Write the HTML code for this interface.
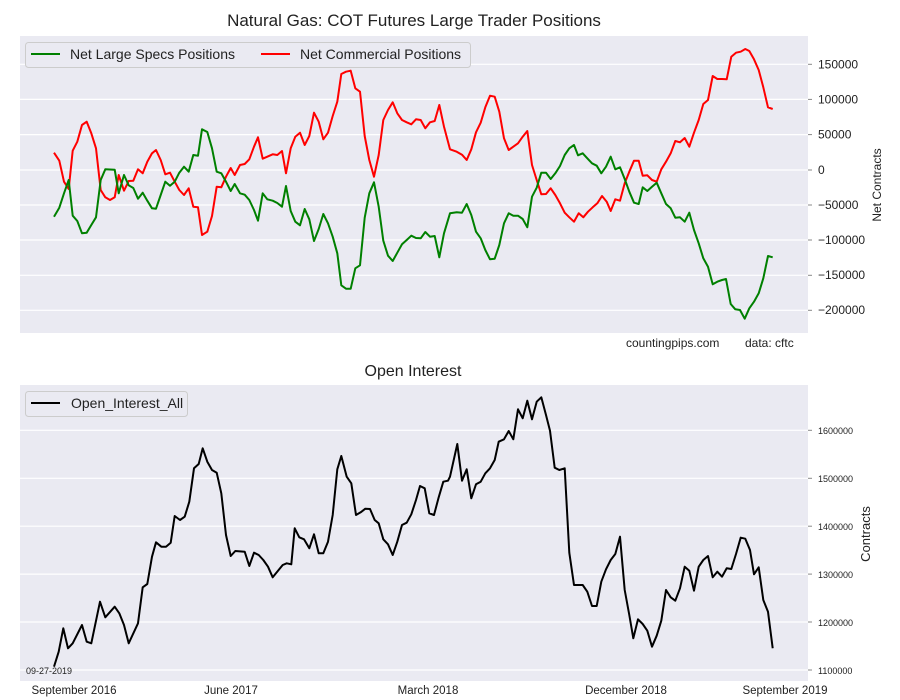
<!DOCTYPE html>
<html><head><style>
body{margin:0;background:#fff;}
svg{display:block;font-family:"Liberation Sans","DejaVu Sans",sans-serif;}
</style></head><body>
<svg id="s" width="900" height="700" xmlns="http://www.w3.org/2000/svg">
<rect x="0" y="0" width="900" height="700" fill="#fff"/>
<rect x="20" y="36" width="788" height="297" fill="#eaeaf2"/>
<rect x="20" y="385" width="788" height="296" fill="#eaeaf2"/>
<g stroke="#fff" stroke-width="1.2">
<line x1="20" x2="808" y1="64.3" y2="64.3"/><line x1="20" x2="808" y1="99.4" y2="99.4"/><line x1="20" x2="808" y1="134.6" y2="134.6"/><line x1="20" x2="808" y1="170" y2="170"/><line x1="20" x2="808" y1="205" y2="205"/><line x1="20" x2="808" y1="240" y2="240"/><line x1="20" x2="808" y1="275.3" y2="275.3"/><line x1="20" x2="808" y1="310.3" y2="310.3"/>
<line x1="20" x2="808" y1="430.3" y2="430.3"/><line x1="20" x2="808" y1="478.3" y2="478.3"/><line x1="20" x2="808" y1="526.2" y2="526.2"/><line x1="20" x2="808" y1="574.1" y2="574.1"/><line x1="20" x2="808" y1="622" y2="622"/><line x1="20" x2="808" y1="670" y2="670"/>
</g>
<g id="lines" fill="none" stroke-width="2" stroke-linejoin="round"></g>
<g font-size="12" fill="#222">
<text x="414" y="26" font-size="17" text-anchor="middle">Natural Gas: COT Futures Large Trader Positions</text>
<text x="413" y="376" font-size="16" text-anchor="middle">Open Interest</text>
<text x="818" y="68.5">150000</text><text x="818" y="103.5">100000</text><text x="818" y="138.5">50000</text><text x="818" y="174">0</text>
<text x="818" y="209">−50000</text><text x="818" y="244">−100000</text><text x="818" y="279">−150000</text><text x="818" y="314">−200000</text>
<text x="626" y="347" font-size="12">countingpips.com</text><text x="745" y="347" font-size="12">data: cftc</text>
<text transform="translate(881,185) rotate(-90)" text-anchor="middle">Net Contracts</text>
<text transform="translate(870,534) rotate(-90)" text-anchor="middle" font-size="13">Contracts</text>
<g font-size="9"><text x="818" y="434">1600000</text><text x="818" y="482">1500000</text><text x="818" y="530">1400000</text><text x="818" y="578">1300000</text><text x="818" y="626">1200000</text><text x="818" y="674">1100000</text></g>
<text x="26" y="674" font-size="9">09-27-2019</text>
<text x="74" y="694" text-anchor="middle" font-size="11.5">September 2016</text>
<text x="231" y="694" text-anchor="middle" font-size="11.5">June 2017</text>
<text x="428" y="694" text-anchor="middle" font-size="11.5">March 2018</text>
<text x="626" y="694" text-anchor="middle" font-size="11.5">December 2018</text>
<text x="785" y="694" text-anchor="middle" font-size="11.5">September 2019</text>
</g>
<g stroke="#888" stroke-width="1"><line x1="808" x2="812" y1="64.3" y2="64.3"/><line x1="808" x2="812" y1="99.4" y2="99.4"/><line x1="808" x2="812" y1="134.6" y2="134.6"/><line x1="808" x2="812" y1="170" y2="170"/><line x1="808" x2="812" y1="205" y2="205"/><line x1="808" x2="812" y1="240" y2="240"/><line x1="808" x2="812" y1="275.3" y2="275.3"/><line x1="808" x2="812" y1="310.3" y2="310.3"/>
<line x1="808" x2="812" y1="430.3" y2="430.3"/><line x1="808" x2="812" y1="478.3" y2="478.3"/><line x1="808" x2="812" y1="526.2" y2="526.2"/><line x1="808" x2="812" y1="574.1" y2="574.1"/><line x1="808" x2="812" y1="622" y2="622"/><line x1="808" x2="812" y1="670" y2="670"/></g>
<rect x="25.5" y="42.5" width="445" height="25" rx="3" fill="#eaeaf2" stroke="#ccc"/>
<line x1="31" x2="60" y1="54" y2="54" stroke="green" stroke-width="2"/>
<text x="70" y="59" font-size="14" fill="#222">Net Large Specs Positions</text>
<line x1="261" x2="290" y1="54" y2="54" stroke="red" stroke-width="2"/>
<text x="300" y="59" font-size="14" fill="#222">Net Commercial Positions</text>
<rect x="25.5" y="391.5" width="162" height="25" rx="3" fill="#eaeaf2" stroke="#ccc"/>
<line x1="31" x2="60" y1="403" y2="403" stroke="#000" stroke-width="2"/>
<text x="71" y="408" font-size="14" fill="#222">Open_Interest_All</text>
</svg>
<script>
function P(a,ox,oy){var r=[];for(var i=0;i<a.length;i+=2)r.push((a[i]/3+ox).toFixed(1)+","+(a[i+1]/3+oy).toFixed(1));return r.join(" ");}
var g1=[162,560,178,533,192,490,206,450,218,557,232,573,246,610,260,608,274,585,288,562,302,450,316,418,344,419,356,490,372,435,386,466,400,474,414,506,428,488,442,512,456,535,468,536,482,495,496,455,510,467,524,455,538,428,552,410,566,425,580,375,594,377,606,298,622,306,636,355,650,425,664,430,678,455,692,483,704,462,720,490,734,494,748,510,762,540,774,572,788,490,802,508,818,512,832,519,846,530,858,468,872,543,886,575,900,586,914,537,928,568,942,633,956,597,970,552,984,580,998,620,1012,670,1024,766,1038,776,1052,776,1066,715,1080,706,1094,563,1108,490,1122,457,1136,530,1150,632,1164,677,1178,693,1192,668,1206,643,1220,630,1234,617,1248,624,1262,625,1276,606,1290,620,1304,618,1318,682,1332,610,1350,550];
var g2=[0,550,20,547,36,548,50,522,64,555,78,605,92,625,106,660,120,688,134,686,148,645,162,580,176,550,190,557,204,557,218,567,232,592,246,500,260,473,274,428,288,428,302,447,316,430,330,408,344,375,358,355,372,345,384,376,398,370,412,385,426,400,440,407,454,430,468,410,482,380,496,418,510,412,524,447,538,485,552,518,566,522,578,472,592,483,606,470,620,458,634,490,648,522,662,535,676,563,690,562,704,575,718,548,732,600,746,640,760,685,774,710,788,763,802,755,816,750,828,747,842,822,856,838,870,840,884,866,898,835,912,815,926,790,940,745,954,678,968,682];
var r1=[162,368,178,392,192,455,206,477,218,362,232,335,246,285,260,275,274,310,288,355,302,480,316,502,330,510,344,502,356,435,372,482,386,453,400,452,414,418,428,430,442,395,456,370,468,360,482,390,496,433,510,428,524,455,538,480,552,495,566,475,580,530,594,532,606,615,622,605,636,558,650,470,664,472,678,440,692,414,704,435,720,405,734,402,748,388,762,350,774,322,788,386,802,380,818,373,832,375,846,363,858,430,872,355,886,320,900,308,914,345,928,318,942,248,956,275,970,328,984,308,998,258,1012,215,1024,132,1038,125,1052,122,1066,175,1080,185,1094,318,1108,390,1122,440,1136,375,1150,270,1164,240,1178,217,1192,250,1206,270,1220,277,1234,283,1248,268,1262,270,1276,295,1290,277,1304,273,1318,225,1332,290,1350,358];
var r2=[0,358,20,365,36,374,50,390,64,358,78,307,92,278,106,232,120,197,134,200,148,245,162,325,176,360,190,350,204,340,218,320,232,303,246,405,260,450,274,493,288,492,302,475,316,495,330,520,344,548,358,562,372,575,386,550,400,562,414,545,428,532,442,520,456,498,470,515,482,543,496,508,510,512,524,460,538,425,552,392,566,392,578,437,592,436,606,450,620,455,634,418,648,395,662,370,676,333,690,337,704,324,718,350,732,308,746,270,760,222,774,210,788,138,802,147,816,147,830,148,844,80,858,68,872,65,886,57,898,63,912,88,926,120,940,172,954,232,968,237];
var b1=[162,860,176,815,190,745,204,805,218,790,246,735,260,785,274,790,300,665,316,712,344,680,358,700,372,735,386,790,414,730,428,622,442,612,456,530,468,487,484,500,498,500,512,488,524,408,540,420,554,410,568,365,582,265,596,252,608,205,622,245,636,270,650,278,664,340,678,465,692,528,706,513,734,515,748,558,762,518,776,525,790,540,804,560,818,592,834,572,848,555,860,550,874,553,884,445,898,472,912,478,928,505,942,463,956,520,970,520,984,485,998,405,1012,268,1024,228,1040,290,1054,310,1068,405,1082,397,1096,386,1110,387,1124,420,1136,430,1150,478,1164,493,1178,525,1192,485,1206,435,1220,428,1234,403,1248,360,1260,318,1274,325,1288,400,1302,405,1316,352,1330,305,1344,302,1350,290];
var b2=[0,290,22,192,36,302,50,268,64,355,78,313,92,305,106,280,120,265,134,240,146,185,162,178,176,153,190,178,204,88,218,115,232,62,246,118,260,65,274,52,288,105,300,152,314,263,328,270,344,265,358,518,372,615,386,615,398,615,412,635,426,678,440,678,454,605,468,568,482,540,496,522,510,470,524,630,538,705,550,775,564,718,578,732,592,752,606,800,620,767,634,722,648,630,662,652,676,662,690,625,704,560,718,572,732,632,746,560,760,540,774,528,788,592,802,575,816,590,830,565,844,567,858,522,872,473,886,476,900,510,912,583,926,562,940,660,954,695,968,805];
var L=document.getElementById("lines"),h="";
h+='<polyline stroke="red" points="'+P(r1,0,30)+' '+P(r2,450,30)+'"/>';
h+='<polyline stroke="green" points="'+P(g1,0,30)+' '+P(g2,450,30)+'"/>';
h+='<polyline stroke="#000" points="'+P(b1,0,380)+' '+P(b2,450,380)+'"/>';
L.innerHTML=h;
</script>
</body></html>
